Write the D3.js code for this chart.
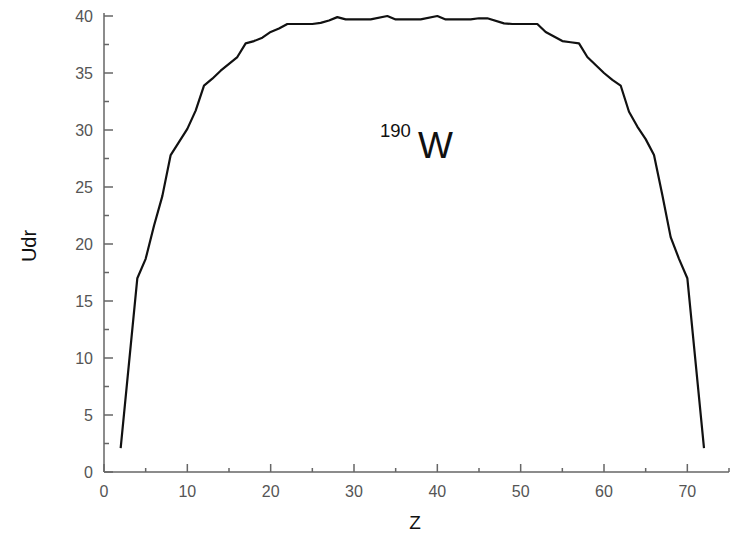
<!DOCTYPE html>
<html><head><meta charset="utf-8">
<script src="https://cdn.jsdelivr.net/npm/d3@7"></script>
<style>body{margin:0;background:#fff;} svg{display:block;}</style>
</head><body>
<svg id="chart" width="732" height="534"></svg>
<script>
const zValues = [2,4,5,6,7,8,10,11,12,13,14,16,17,18,19,20,21,22,24,25,26,27,28,29,32,34,35,38,40,41,44,45,46,48,49,52,53,54,55,56,57,58,59,60,61,62,63,64,65,66,67,68,69,70,72];
const udrValues = [2.1,17.0,18.7,21.6,24.2,27.8,30.1,31.7,33.9,34.5,35.2,36.4,37.6,37.8,38.1,38.6,38.9,39.3,39.3,39.3,39.4,39.6,39.9,39.7,39.7,40.0,39.7,39.7,40.0,39.7,39.7,39.8,39.8,39.35,39.3,39.3,38.6,38.2,37.8,37.7,37.6,36.4,35.7,35.0,34.4,33.9,31.6,30.3,29.2,27.8,24.3,20.6,18.7,17.0,2.1];
const xTicks = [0,10,20,30,40,50,60,70];
const yTicks = [0,5,10,15,20,25,30,35,40];
const xLabel = "Z", yLabel = "Udr";

const svg = d3.select("#chart");
const x = d3.scaleLinear().domain([0,75]).range([104,729]);
const y = d3.scaleLinear().domain([0,40]).range([472,16]);
const axisColor = "#666", labelColor = "#555";
const font = "Liberation Sans, Arial, sans-serif";

// x axis
const gx = svg.append("g");
gx.append("line").attr("x1",x(0)).attr("x2",x(75)).attr("y1",y(0)).attr("y2",y(0)).attr("stroke",axisColor).attr("stroke-width",1.5);
const xMinor = d3.range(5,76,10);
gx.selectAll(".xmaj").data(xTicks).join("line").attr("x1",d=>x(d)).attr("x2",d=>x(d)).attr("y1",y(0)).attr("y2",y(0)-8).attr("stroke",axisColor).attr("stroke-width",1.5);
gx.selectAll(".xmin").data(xMinor).join("line").attr("x1",d=>x(d)).attr("x2",d=>x(d)).attr("y1",y(0)).attr("y2",y(0)-4).attr("stroke",axisColor).attr("stroke-width",1.5);
gx.selectAll(".xl").data(xTicks).join("text").attr("x",d=>x(d)).attr("y",y(0)+25).attr("text-anchor","middle")
  .attr("font-family",font).attr("font-size",16).attr("fill",labelColor).text(d=>d);

// y axis
const gy = svg.append("g");
gy.append("line").attr("x1",x(0)).attr("x2",x(0)).attr("y1",y(0)).attr("y2",13).attr("stroke",axisColor).attr("stroke-width",1.5);
const yMinor = d3.range(2.5,40,5);
gy.selectAll(".ymaj").data(yTicks).join("line").attr("x1",x(0)).attr("x2",x(0)+9).attr("y1",d=>y(d)).attr("y2",d=>y(d)).attr("stroke",axisColor).attr("stroke-width",1.5);
gy.selectAll(".ymin").data(yMinor).join("line").attr("x1",x(0)).attr("x2",x(0)+5).attr("y1",d=>y(d)).attr("y2",d=>y(d)).attr("stroke",axisColor).attr("stroke-width",1.5);
gy.selectAll(".yl").data(yTicks).join("text").attr("x",x(0)-11).attr("y",d=>y(d)+6).attr("text-anchor","end")
  .attr("font-family",font).attr("font-size",16).attr("fill",labelColor).text(d=>d);

// line
svg.append("path").datum(zValues.map((z,i)=>[z,udrValues[i]]))
  .attr("d",d3.line().x(d=>x(d[0])).y(d=>y(d[1])))
  .attr("fill","none").attr("stroke","#111").attr("stroke-width",2.2).attr("stroke-linejoin","round");

// axis titles
svg.append("text").attr("x",415).attr("y",529).attr("text-anchor","middle")
  .attr("font-family",font).attr("font-size",19).attr("fill","#111").text(xLabel);
svg.append("text").attr("transform","translate(36,246) rotate(-90)").attr("text-anchor","middle")
  .attr("font-family",font).attr("font-size",20).attr("fill","#111").text(yLabel);

// annotation
const ann = svg.append("text").attr("font-family",font).attr("fill","#111");
ann.append("tspan").attr("x",380).attr("y",137).attr("font-size",18.5).text("190");
ann.append("tspan").attr("x",418).attr("y",158).attr("font-size",37).text("W");
</script>
</body></html>
